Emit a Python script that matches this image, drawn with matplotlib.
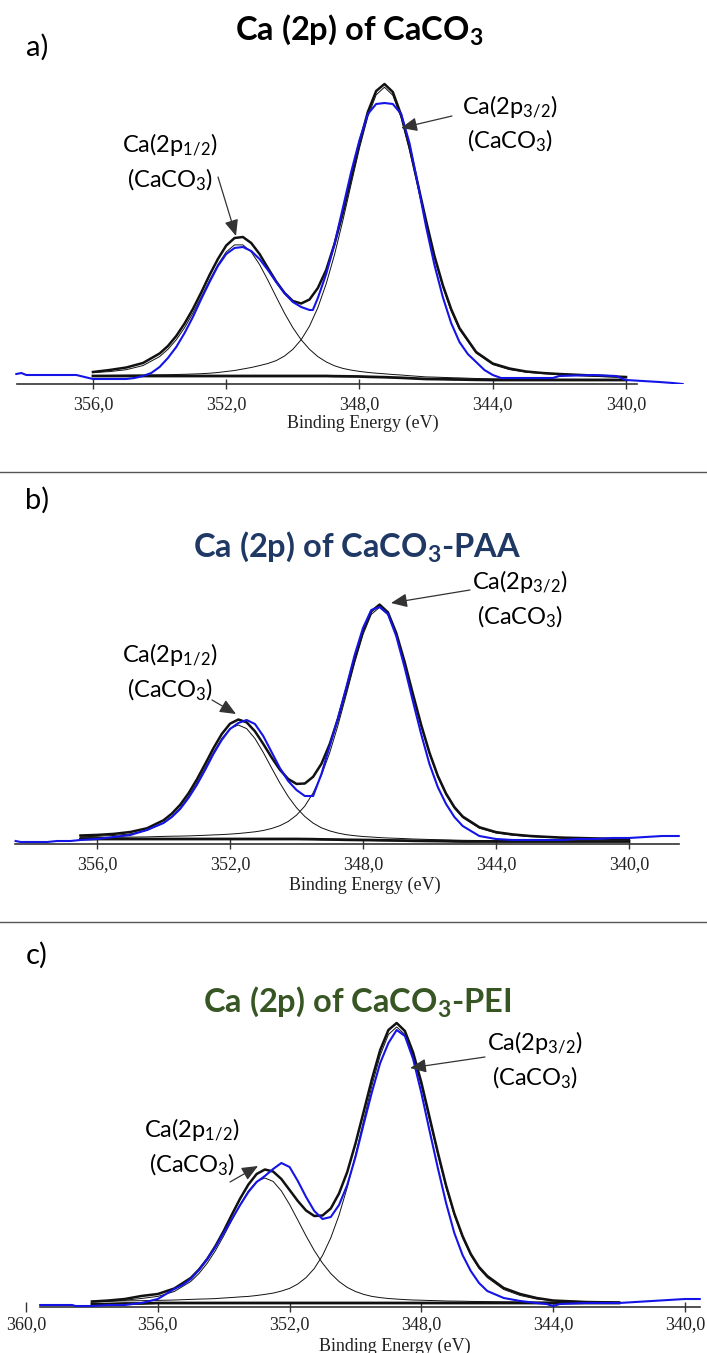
import matplotlib
matplotlib.use("Agg")
import matplotlib.pyplot as plt
from matplotlib.patches import FancyArrowPatch
from matplotlib.lines import Line2D
from matplotlib.ticker import FuncFormatter

plt.rcParams["mathtext.fontset"] = "custom"
plt.rcParams["mathtext.rm"] = "Lato"
plt.rcParams["mathtext.it"] = "Lato:italic"
plt.rcParams["mathtext.bf"] = "Lato:bold"

# ---------------- panel a : CaCO3 ----------------
energy_a = [356.0, 355.5, 355.0, 354.5, 354.0, 353.75, 353.5, 353.25, 353.0, 352.75, 352.5, 352.25,
            352.0, 351.75, 351.5, 351.25, 351.0, 350.75, 350.5, 350.25, 350.0, 349.75, 349.5, 349.25,
            349.0, 348.75, 348.5, 348.25, 348.0, 347.75, 347.5, 347.25, 347.0, 346.75, 346.5, 346.25,
            346.0, 345.75, 345.5, 345.25, 345.0, 344.5, 344.0, 343.5, 343.0, 342.5, 342.0, 341.0, 340.0]
bkg_a = [8, 8, 8, 8, 8, 8, 8, 8, 8, 8, 8, 8, 8, 8, 8, 8, 8, 8, 8, 8, 8, 8, 8, 8, 8,
         7.8, 7.7, 7.6, 7.5, 7.2, 7.0, 6.8, 6.5, 6.2, 5.8, 5.4, 5.0, 4.9, 4.8, 4.6, 4.5, 4.2,
         4, 4, 4, 4, 4, 4, 4]
env_a = [12, 14, 16.5, 21, 30.5, 38, 48, 60.5, 75, 91.5, 109, 125, 138.5, 146, 147, 141, 130, 116,
         102.5, 91, 83, 80.5, 84.5, 96, 114, 140, 171, 206, 241, 272, 293, 300, 292, 269, 237, 200,
         163, 128, 99, 75, 56, 32, 20.5, 15.5, 12.5, 11, 10, 8.5, 7]
p12_a = [11.4, 12.4, 14.3, 18.4, 27.4, 34.7, 44.2, 56.3, 70.8, 87.1, 103.8, 119.5, 132.1, 139.1,
         139.1, 132.1, 119.5, 103.8, 87.1, 70.8, 56.3, 44.2, 34.7, 27.4, 22.1, 18.2, 15.6, 13.9,
         12.6, 11.6, 10.8, 10.2, 9.5, 9.0, 8.3, 7.7, 7.1, 6.9, 6.6, 6.3, 6.1, 5.5, 5.1, 5.0, 4.9,
         4.8, 4.7, 4.6, 4.5]
p32_a = [8.5, 8.6, 8.8, 9.0, 9.2, 9.3, 9.5, 9.7, 10.0, 10.3, 10.8, 11.5, 12.5, 13.5, 15.0, 16.5,
         18.4, 20.5, 23.4, 28.0, 34.7, 44.3, 57.9, 76.4, 100.2, 129.3, 163.4, 199.9, 236.0, 267.3,
         289.2, 296.8, 288.7, 266.3, 234.3, 197.7, 160.7, 126.4, 97.0, 73.0, 54.4, 30.9, 19.4,
         14.4, 11.8, 10.4, 9.2, 7.8, 6.8]
blue_e_a = [358.3, 358.15, 358.0, 357.5, 357.0, 356.5, 356.25, 356.0, 355.5, 355.0, 354.75, 354.5,
            354.25, 354.0, 353.75, 353.5, 353.25, 353.0, 352.75, 352.5, 352.25, 352.0, 351.75,
            351.5, 351.25, 351.0, 350.75, 350.5, 350.25, 350.0, 349.75, 349.5, 349.4, 349.25,
            349.0, 348.75, 348.5, 348.25, 348.0, 347.75, 347.5, 347.25, 347.0, 346.75, 346.5,
            346.25, 346.0, 345.75, 345.5, 345.25, 345.0, 344.75, 344.5, 344.25, 344.0, 343.75,
            343.0, 342.2, 342.0, 341.0, 340.3, 340.0, 339.5, 339.0, 338.6, 338.3]
blue_a = [10, 11, 9, 9, 9, 9, 7, 5, 5, 5, 6, 8, 11, 17, 26, 37, 51, 67, 85, 102, 118, 130, 136,
          137, 133, 125, 114, 102, 91, 82, 77, 74, 74, 86, 110, 140, 176, 212, 244, 270, 280, 281,
          280, 270, 241, 200, 157, 119, 87, 61, 42, 30, 22, 14, 9, 6, 6, 6, 8, 9, 8, 4, 3, 2, 1, 0]

# ---------------- panel b : CaCO3-PAA ----------------
energy_b = [356.5, 356.0, 355.5, 355.0, 354.5, 354.0, 353.75, 353.5, 353.25, 353.0, 352.75, 352.5,
            352.25, 352.0, 351.75, 351.5, 351.25, 351.0, 350.75, 350.5, 350.25, 350.0, 349.75,
            349.5, 349.25, 349.0, 348.75, 348.5, 348.25, 348.0, 347.75, 347.5, 347.25, 347.0,
            346.75, 346.5, 346.25, 346.0, 345.75, 345.5, 345.25, 345.0, 344.5, 344.0, 343.5,
            343.0, 342.5, 342.0, 341.0, 340.0]
bkg_b = [5, 5, 5, 5, 5, 5, 5, 5, 5, 5, 5, 5, 5, 5, 5, 5, 5, 5, 5, 5, 5, 5,
         4.9, 4.8, 4.6, 4.5, 4.4, 4.2, 4.1, 4.0, 3.9, 3.7, 3.6, 3.5, 3.4, 3.2, 3.1, 3.0, 2.9,
         2.8, 2.6, 2.5, 2.5, 2.5, 2.5, 2.5, 2.5, 2.5, 2.5, 2.5]
env_b = [8.5, 9.1, 10.1, 12.0, 15.7, 23.7, 30.4, 39.2, 50.6, 64.4, 79.8, 95.7, 109.9, 120.3, 124.5,
         121.7, 112.7, 100.1, 86.6, 74.3, 65.0, 60.1, 60.5, 67.2, 80.2, 100.0, 125.4, 154.7, 185.4,
         212.9, 232.7, 239.4, 231.7, 211.1, 182.5, 150.4, 119.3, 91.4, 68.3, 50.4, 36.9, 27.5,
         16.8, 11.9, 9.6, 8.1, 7.2, 6.4, 5.6, 4.8]
p12_b = [7.2, 7.7, 8.5, 10.1, 13.6, 21.1, 27.6, 36.3, 47.5, 61.0, 76.1, 91.6, 105.5, 115.4, 119,
         115.4, 105.5, 91.6, 76.1, 61.0, 47.5, 36.3, 27.5, 20.9, 16.2, 13.1, 10.9, 9.3, 8.3, 7.5,
         7.0, 6.4, 6.0, 5.7, 5.4, 5.0, 4.8, 4.5, 4.3, 4.1, 3.9, 3.7, 3.5, 3.4, 3.3, 3.2, 3.1, 3.0,
         3.0, 2.9]
p32_b = [6.3, 6.4, 6.6, 6.9, 7.1, 7.6, 7.8, 7.9, 8.1, 8.4, 8.7, 9.1, 9.4, 9.9, 10.5, 11.3, 12.2,
         13.5, 15.5, 18.3, 22.5, 28.8, 37.9, 51.1, 68.6, 91.4, 118.9, 149.6, 181.2, 209.4, 229.6,
         236.7, 229.3, 208.9, 180.5, 148.6, 117.6, 89.9, 66.9, 49.1, 35.6, 26.3, 15.8, 11.0, 8.8,
         7.4, 6.6, 5.9, 5.1, 4.4]
blue_e_b = [358.45, 358.3, 358.0, 357.5, 357.2, 356.8, 356.5, 356.0, 355.5, 355.0, 354.5, 354.0,
            353.75, 353.5, 353.25, 353.0, 352.75, 352.5, 352.25, 352.0, 351.75, 351.5, 351.25,
            351.0, 350.75, 350.5, 350.25, 350.0, 349.75, 349.5, 349.25, 349.0, 348.75, 348.5,
            348.25, 348.0, 347.75, 347.5, 347.25, 347.0, 346.75, 346.5, 346.25, 346.0, 345.75,
            345.5, 345.25, 345.0, 344.5, 344.0, 343.5, 343.0, 342.5, 342.0, 341.5, 341.0, 340.5,
            340.0, 339.5, 339.0, 338.5]
blue_b = [3, 2, 2, 2, 3, 3, 4, 5, 7, 9, 14, 21, 27, 35, 46, 59, 74, 90, 104, 115, 121, 124, 120,
          108, 92, 76, 63, 54, 48, 48, 70, 98, 126, 157, 189, 216, 234, 237, 230, 208, 177, 143,
          110, 80, 57, 40, 27, 18, 8, 5, 4, 4, 4, 4, 5, 5, 6, 6, 7, 8, 8]

# ---------------- panel c : CaCO3-PEI ----------------
energy_c = [358.0, 357.5, 357.0, 356.5, 356.0, 355.5, 355.0, 354.75, 354.5, 354.25, 354.0, 353.75,
            353.5, 353.25, 353.0, 352.75, 352.5, 352.25, 352.0, 351.75, 351.5, 351.25, 351.0,
            350.75, 350.5, 350.25, 350.0, 349.75, 349.5, 349.25, 349.0, 348.75, 348.5, 348.25,
            348.0, 347.75, 347.5, 347.25, 347.0, 346.75, 346.5, 346.25, 346.0, 345.5, 345.0,
            344.5, 344.0, 343.0, 342.0]
bkg_c = [3, 3, 3.5, 3.5, 4, 4, 4, 4, 4, 4, 4, 4, 4, 4, 4, 4, 4, 4, 4, 4, 4, 4, 4, 4, 4, 4, 4, 4,
         4, 4, 4, 4, 4, 4, 4, 4, 4, 4, 4, 4, 4, 4, 4, 4, 4, 4, 4, 4, 4]
env_c = [5.5, 6.5, 8, 11, 13, 18.5, 29, 37.5, 48, 61, 76, 92.5, 108.5, 122.5, 133, 137.5, 135.5,
         128, 117, 106, 96.5, 91, 91.5, 98.5, 113.5, 135, 163.5, 195.5, 228, 257, 277, 284, 276,
         254.5, 224.5, 189.5, 154.5, 121.5, 93.5, 71, 53, 40, 31, 19, 13, 9, 6.5, 5, 4.5]
p12_c = [5, 5.8, 6.8, 8.5, 10.6, 15.5, 25.5, 33.5, 43.8, 56.4, 71.1, 86.9, 102.5, 116.1, 125.6,
         129, 125.6, 116.1, 102.5, 86.9, 71.1, 56.4, 43.8, 33.5, 25.5, 19.6, 15.5, 12.6, 10.6,
         9.4, 8.5, 7.9, 7.4, 7.0, 6.8, 6.5, 6.3, 6.0, 5.9, 5.8, 5.6, 5.5, 5.4, 5.2, 5.1, 4.9, 4.8,
         4.6, 4.5]
p32_c = [5.7, 5.8, 6.1, 6.3, 6.6, 7.0, 7.6, 7.9, 8.1, 8.4, 9.0, 9.5, 10.1, 10.6, 11.5, 12.6, 13.9,
         15.9, 18.6, 23, 29.4, 38.5, 51.5, 69.1, 91.8, 119.6, 152.2, 187, 221.5, 251.6, 272.5, 280,
         272.5, 251.6, 221.5, 187, 152.2, 119.6, 91.8, 69.1, 51.5, 38.5, 29.4, 17.5, 11.5, 8, 6.5,
         5.2, 4.7]
blue_e_c = [359.57, 359.3, 359.0, 358.6, 358.5, 358.0, 357.5, 357.0, 356.5, 356.0, 355.5, 355.25,
            355.0, 354.75, 354.5, 354.25, 354.0, 353.75, 353.5, 353.25, 353.0, 352.75, 352.5,
            352.25, 352.0, 351.75, 351.5, 351.25, 351.0, 350.75, 350.5, 350.25, 350.0, 349.75,
            349.5, 349.25, 349.0, 348.75, 348.5, 348.25, 348.0, 347.75, 347.5, 347.25, 347.0,
            346.75, 346.5, 346.25, 346.0, 345.5, 345.0, 344.5, 344.2, 344.0, 343.8, 343.0, 342.0,
            341.5, 341.0, 340.5, 340.0, 339.55]
blue_c = [2, 2, 2, 2, 1, 1, 2, 2, 4, 8, 18, 22, 28, 37, 48, 60, 74, 88, 102, 115, 125, 131, 138,
          144, 140, 126, 110, 96, 88, 90, 102, 122, 150, 183, 215, 244, 264, 277, 271, 248, 214,
          176, 139, 104, 74, 52, 36, 24, 16, 9, 6, 4, 3, 1, 3, 4, 4, 5, 6, 7, 8, 8]

ticks_ab = [356, 352, 348, 344, 340]
ticks_c = [360, 356, 352, 348, 344, 340]

BLUE = "#1414e6"
W, H = 707, 1353
fig = plt.figure(figsize=(W / 100, H / 100), dpi=100)


def fpos(x, y):
    return (x / W, 1 - y / H)


def comma_fmt(v, pos):
    return f"{v:.1f}".replace(".", ",")


def spectrum_panel(top, axis_y, xlim, spine, ticks, pad, energy, bkg, env, p12, p32, blue_e, blue):
    ax = fig.add_axes([0, 1 - axis_y / H, 1, (axis_y - top) / H])
    ax.set_xlim(*xlim)
    ax.set_ylim(0, axis_y - top)
    ax.patch.set_alpha(0)
    ax.plot(energy, p12, color="#111111", lw=0.7, zorder=2)
    ax.plot(energy, p32, color="#111111", lw=0.7, zorder=2)
    ax.plot(energy, bkg, color="#111111", lw=2.0, zorder=2)
    ax.plot(energy, env, color="#111111", lw=1.8, zorder=3)
    ax.plot(blue_e, blue, color=BLUE, lw=1.5, zorder=4)
    for s in ["top", "left", "right"]:
        ax.spines[s].set_visible(False)
    ax.spines["bottom"].set_bounds(*spine)
    ax.spines["bottom"].set_color("#333333")
    ax.spines["bottom"].set_linewidth(1.2)
    ax.set_yticks([])
    ax.set_xticks(ticks)
    ax.xaxis.set_major_formatter(FuncFormatter(comma_fmt))
    ax.tick_params(axis="x", direction="inout", length=7, width=1, color="#333333",
                   labelsize=13, pad=pad, labelcolor="#222222",
                   labelfontfamily="Liberation Serif")
    return ax


spectrum_panel(60, 384, (358.79, 337.57), (339.67, 358.28), ticks_ab, 5,
               energy_a, bkg_a, env_a, p12_a, p32_a, blue_e_a, blue_a)
spectrum_panel(520, 844, (358.92, 337.65), (338.5, 358.47), ticks_ab, 5,
               energy_b, bkg_b, env_b, p12_b, p32_b, blue_e_b, blue_b)
spectrum_panel(980, 1307, (360.79, 339.33), (339.55, 359.58), ticks_c, 3,
               energy_c, bkg_c, env_c, p12_c, p32_c, blue_e_c, blue_c)

# axis titles
for (x, y) in [(363, 423), (365, 885), (395, 1346)]:
    fig.text(*fpos(x, y), "Binding Energy (eV)", ha="center", va="center",
             family="Liberation Serif", fontsize=13, color="#222222")

# separators
for y in [472, 922]:
    fig.add_artist(Line2D([0, 1], [1 - y / H, 1 - y / H], color="#555555", lw=1))

# panel letters and titles
titles = [("a)", (37, 47), r"Ca (2p) of CaCO$_\mathbf{3}$", (359, 40), "#000000"),
          ("b)", (37, 500), r"Ca (2p) of CaCO$_\mathbf{3}$-PAA", (357, 557), "#1f3864"),
          ("c)", (37, 955), r"Ca (2p) of CaCO$_\mathbf{3}$-PEI", (357, 1012), "#375623")]
for letter, lpos, title, tpos, col in titles:
    fig.text(*fpos(*lpos), letter, ha="center", va="center", family="Lato", fontsize=21)
    fig.text(*fpos(*tpos), title, ha="center", va="baseline", family="Lato",
             fontweight="bold", fontsize=23.5, color=col)

# peak annotations: (text line 1, centre 1, centre 2, arrow tail, arrow head)
notes = [
    (r"Ca(2p$_{1/2}$)", (170, 145), (170, 180), (218, 177), (236, 236)),
    (r"Ca(2p$_{3/2}$)", (510, 107), (510, 141), (452, 116), (401, 128)),
    (r"Ca(2p$_{1/2}$)", (170, 655), (170, 690), (212, 700), (236, 714)),
    (r"Ca(2p$_{3/2}$)", (520, 582), (520, 617), (470, 590), (391, 603)),
    (r"Ca(2p$_{1/2}$)", (192, 1130), (192, 1165), (230, 1182), (258, 1166)),
    (r"Ca(2p$_{3/2}$)", (535, 1043), (535, 1078), (485, 1057), (410, 1068)),
]
for line1, p1, p2, tail, head in notes:
    fig.text(*fpos(*p1), line1, ha="center", va="center", family="Lato", fontsize=17)
    fig.text(*fpos(*p2), r"(CaCO$_3$)", ha="center", va="center", family="Lato", fontsize=17)
    arr = FancyArrowPatch(fpos(*tail), fpos(*head), transform=fig.transFigure,
                          arrowstyle="-|>,head_length=0.7,head_width=0.3", mutation_scale=14,
                          lw=0.9, color="#333333", shrinkA=0, shrinkB=0)
    fig.add_artist(arr)

fig.savefig("out.png", dpi=100)
